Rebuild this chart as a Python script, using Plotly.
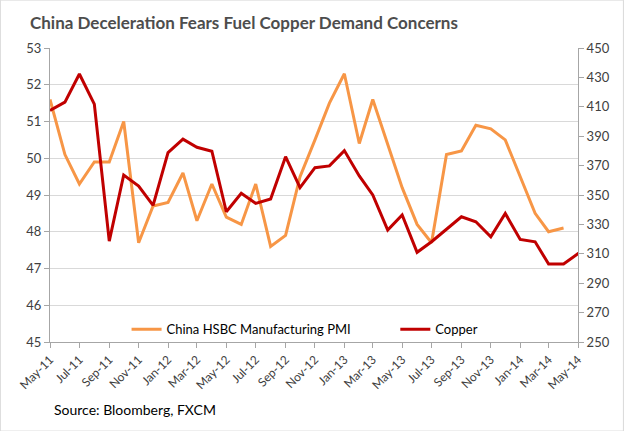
import plotly.graph_objects as go

months = ["2011-05-01","2011-06-01","2011-07-01","2011-08-01","2011-09-01","2011-10-01","2011-11-01","2011-12-01",
          "2012-01-01","2012-02-01","2012-03-01","2012-04-01","2012-05-01","2012-06-01","2012-07-01","2012-08-01",
          "2012-09-01","2012-10-01","2012-11-01","2012-12-01","2013-01-01","2013-02-01","2013-03-01","2013-04-01",
          "2013-05-01","2013-06-01","2013-07-01","2013-08-01","2013-09-01","2013-10-01","2013-11-01","2013-12-01",
          "2014-01-01","2014-02-01","2014-03-01","2014-04-01"]
copper_dates = months + ["2014-05-21"]

pmi = [51.6, 50.1, 49.3, 49.9, 49.9, 51.0, 47.7, 48.7, 48.8, 49.6, 48.3, 49.3,
       48.4, 48.2, 49.3, 47.6, 47.9, 49.5, 50.5, 51.5, 52.3, 50.4, 51.6, 50.4,
       49.2, 48.2, 47.7, 50.1, 50.2, 50.9, 50.8, 50.5, 49.5, 48.5, 48.0, 48.1]

copper = [407.5, 413.2, 432.3, 411.8, 318.6, 363.6, 356.1, 343.0, 378.8, 388.0, 382.5, 379.8,
          338.6, 351.2, 344.3, 347.3, 376.1, 355.0, 368.6, 369.8, 380.2, 363.0, 350.0, 326.1,
          336.4, 311.0, 318.2, 326.6, 335.2, 331.8, 321.6, 337.5, 319.8, 318.2, 303.0, 303.0, 314.8]

title_text = "China Deceleration Fears Fuel Copper Demand Concerns"
source_text = "Source: Bloomberg, FXCM"

FONT = "Lato"
TXT = "#404040"
AX = "#a6a6a6"

fig = go.Figure()
fig.add_trace(go.Scatter(x=months, y=pmi, mode="lines", name="China HSBC Manufacturing PMI",
                         line=dict(color="#F79646", width=3), legend="legend"))
fig.add_trace(go.Scatter(x=copper_dates, y=copper, mode="lines", name="Copper", yaxis="y2",
                         line=dict(color="#C00000", width=3), legend="legend2"))

leg_common = dict(orientation="h", xanchor="left", y=0.043, yanchor="middle",
                  font=dict(family=FONT, size=13, color="#000000"), bgcolor="rgba(0,0,0,0)")

fig.update_layout(
    width=624, height=431,
    margin=dict(l=50, r=46, t=48, b=89, autoexpand=False),
    paper_bgcolor="white", plot_bgcolor="white",
    font=dict(family=FONT, size=13, color=TXT),
    showlegend=True,
    legend=dict(x=0.145, **leg_common),
    legend2=dict(x=0.654, **leg_common),
    xaxis=dict(type="date", range=["2011-05-01", "2014-05-01"], dtick="M2", tick0="2011-05-01",
               tickformat="%b-%y", tickangle=-45, showgrid=False, showline=True, linecolor=AX,
               linewidth=1, ticks="outside", ticklen=5, tickcolor=AX, zeroline=False,
               automargin=False, tickfont=dict(family=FONT, size=12, color=TXT)),
    yaxis=dict(range=[45, 53], dtick=1, showgrid=True, gridcolor="#d9d9d9", gridwidth=1,
               showline=True, linecolor=AX, ticks="outside", ticklen=5, tickcolor=AX,
               zeroline=False, automargin=False, tickfont=dict(family=FONT, size=13, color=TXT)),
    yaxis2=dict(range=[250, 450], dtick=20, tick0=250, overlaying="y", side="right", showgrid=False,
                showline=True, linecolor=AX, ticks="outside", ticklen=5, tickcolor=AX,
                zeroline=False, automargin=False, tickfont=dict(family=FONT, size=13, color=TXT)),
    annotations=[
        dict(text="<b>" + title_text + "</b>", xref="paper", yref="paper", x=-0.042, y=1.0,
             xanchor="left", yanchor="middle", yshift=26, showarrow=False,
             font=dict(family=FONT, size=17, color="#4d4d4d")),
        dict(text=source_text, xref="paper", yref="paper", x=0.003, y=0, xanchor="left",
             yanchor="middle", yshift=-67, showarrow=False,
             font=dict(family=FONT, size=14, color="#000000")),
    ],
    shapes=[dict(type="rect", xref="paper", yref="paper", x0=-0.094, x1=1.086, y0=-0.303, y1=1.163,
                 line=dict(color="#d9d9d9", width=1))],
)

fig.write_html("out.html", config={"displayModeBar": False},
               post_script="document.body.style.margin='0px';")
